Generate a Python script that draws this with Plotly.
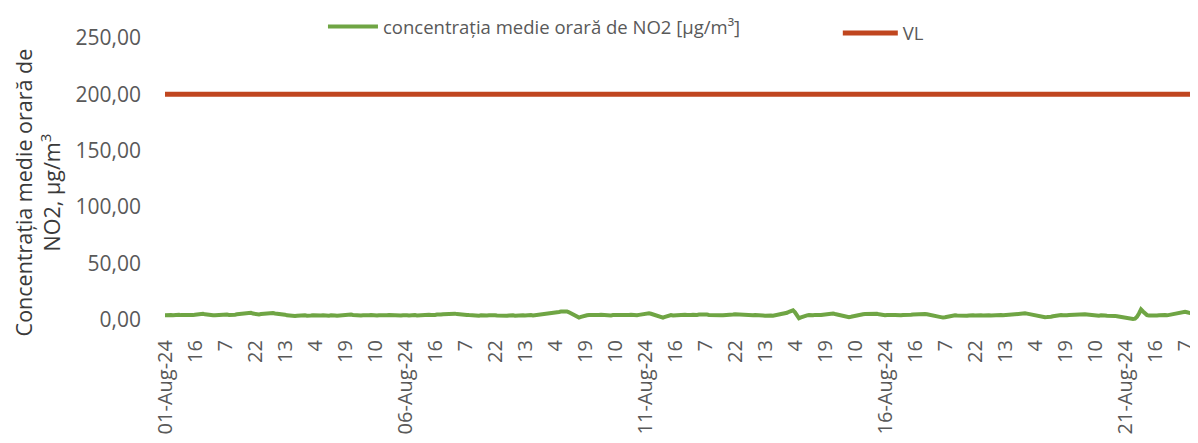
import plotly.graph_objects as go

# Hourly mean NO2 concentration (µg/m³), starting 01-Aug-24 hour 1
no2_values = [
    3.9,4.1,4.3,4.0,3.8,4.2,4.5,4.3,4.0,3.9,4.2,4.4,4.1,3.9,4.0,4.3,4.6,4.8,5.0,5.2,4.7,4.3,4.1,4.0,
    3.8,3.9,4.1,4.4,4.2,4.0,4.3,4.5,4.2,4.0,4.1,4.4,4.7,4.9,5.2,5.6,5.9,6.2,6.5,6.0,5.4,5.0,4.8,4.6,
    4.9,5.2,5.5,5.7,5.4,5.6,5.9,5.5,5.3,5.6,5.4,5.0,4.4,3.8,3.5,3.4,3.6,3.3,3.5,3.7,3.4,3.6,3.8,3.5,
    3.3,3.6,3.9,3.7,3.5,3.4,3.7,3.9,3.6,3.4,3.5,3.8,4.0,3.7,3.5,3.6,3.9,4.1,4.3,4.6,4.8,4.5,4.1,3.8,
    3.6,3.4,3.7,3.9,3.6,3.5,3.8,4.0,3.7,3.5,3.6,3.9,3.7,3.4,3.6,3.8,4.1,3.9,3.6,3.7,4.0,3.8,3.6,3.9,
    4.1,3.8,3.6,3.9,4.2,4.0,3.7,3.9,4.3,4.1,3.8,4.0,4.4,4.2,3.9,4.1,4.5,4.3,4.6,4.8,5.0,5.2,5.4,5.5,
    5.6,5.3,4.9,4.6,4.3,4.1,3.9,4.2,4.0,3.8,4.1,3.9,3.7,3.5,3.8,3.6,3.4,3.7,3.9,3.6,3.5,3.8,3.6,3.4,
    3.7,3.9,3.6,3.4,3.7,4.0,3.8,3.5,3.7,3.9,4.1,3.8,3.6,3.9,4.2,4.0,3.7,3.9,4.2,4.4,4.2,4.5,4.7,4.9,
    5.1,5.4,5.7,6.0,6.4,6.8,7.1,7.4,7.6,7.2,6.5,5.5,4.4,3.2,2.2,1.8,2.4,3.1,3.6,3.9,4.1,3.8,4.0,4.2,
    3.9,4.1,4.3,4.0,3.8,4.1,3.9,3.7,4.0,4.2,3.9,3.7,3.9,4.2,4.0,3.8,4.1,4.3,4.0,3.8,3.9,4.2,4.5,4.8,
    5.2,5.5,5.6,5.2,4.6,3.9,3.1,2.4,1.9,1.8,2.4,3.2,3.8,4.0,3.7,3.9,4.2,4.0,3.8,4.1,4.4,4.2,3.9,4.1,
    4.3,4.0,4.2,4.5,4.7,4.6,4.8,4.5,4.2,4.0,3.8,4.1,4.3,4.0,3.8,3.9,4.2,4.4,4.3,4.5,4.6,4.8,4.7,4.4,
    4.1,3.9,3.7,4.0,3.8,3.6,3.9,4.1,3.8,3.6,3.9,3.7,3.5,3.8,4.0,3.7,3.5,3.8,4.0,4.3,4.5,4.9,5.4,6.1,
    7.0,7.8,8.2,6.5,3.5,1.2,1.9,2.8,3.4,3.8,4.0,3.7,3.9,4.2,4.0,3.8,4.1,4.4,4.8,5.2,5.6,5.8,5.5,5.0,
    4.5,3.9,3.3,2.8,2.5,2.3,2.2,2.5,3.0,3.5,3.9,4.2,4.4,4.7,4.9,5.1,5.3,5.5,5.6,5.6,5.2,4.7,4.3,4.0,
    3.8,4.1,3.9,3.7,4.0,4.2,3.9,3.7,3.8,4.1,4.0,3.8,4.1,4.3,4.5,4.7,4.9,5.0,5.1,5.2,5.0,4.7,4.3,3.9,
    3.6,3.1,2.6,2.1,1.9,1.8,2.1,2.6,3.1,3.5,3.7,3.9,3.6,3.4,3.7,3.9,3.6,3.4,3.7,4.0,3.8,3.6,3.9,4.1,
    3.8,3.6,3.9,4.1,3.8,3.6,3.8,4.0,3.7,3.9,4.1,3.8,4.0,4.2,4.4,4.1,4.3,4.6,4.8,5.0,5.2,5.4,5.6,5.3,
    4.9,4.5,4.1,3.7,3.3,2.9,2.6,2.4,2.2,2.3,2.2,2.6,3.0,3.4,3.7,3.9,4.1,3.8,3.6,3.9,4.1,4.3,4.2,4.4,
    4.5,4.6,4.7,4.8,4.8,4.6,4.3,4.0,3.8,4.0,3.7,3.5,3.8,4.0,3.7,3.5,3.6,3.8,3.5,3.3,3.0,2.6,2.2,1.8,
    1.5,1.2,0.9,0.7,0.5,0.8,2.5,5.5,9.0,7.2,5.0,4.0,3.6,3.4,3.7,3.9,3.6,3.8,4.1,4.3,4.0,3.8,4.2,4.5,
    4.8,5.2,5.6,6.1,6.6,6.9,7.0,6.6,6.0,5.4,4.9,4.5,4.3,4.1,3.9,4.2,4.0,3.8,4.1,3.9,3.7,4.0,4.2,3.9,
]
vl_value = 200.0  # valoare limită

# X tick labels, one every 15 hours
tick_labels = [
    "01-Aug-24", "16", "7", "22", "13", "4", "19", "10",
    "06-Aug-24", "16", "7", "22", "13", "4", "19", "10",
    "11-Aug-24", "16", "7", "22", "13", "4", "19", "10",
    "16-Aug-24", "16", "7", "22", "13", "4", "19", "10",
    "21-Aug-24", "16", "7", "22",
]
tick_step = 15

y_ticks = [0, 50, 100, 150, 200, 250]

hours = list(range(len(no2_values)))
tick_positions = [i * tick_step for i in range(len(tick_labels))]

FONT = "Open Sans"
GREEN = "#6FA544"
RED = "#C0461F"
TICK_COL = "#595959"

fig = go.Figure()
fig.add_trace(go.Scatter(
    x=hours, y=no2_values, mode="lines",
    name="concentrația medie orară de NO2 [µg/m³]",
    line=dict(color=GREEN, width=4), legend="legend",
))
fig.add_trace(go.Scatter(
    x=hours, y=[vl_value] * len(hours), mode="lines",
    name="VL",
    line=dict(color=RED, width=5), legend="legend2",
))

fig.update_layout(
    width=1190, height=435,
    margin=dict(l=152, r=0, t=30, b=120, autoexpand=False),
    paper_bgcolor="white", plot_bgcolor="white",
    separators=", ",
    font=dict(family=FONT, color=TICK_COL),
    legend=dict(
        orientation="h", x=0.157, y=1.0, xanchor="left", yanchor="top",
        xref="paper", yref="container",
        font=dict(family=FONT, size=18.5, color=TICK_COL),
        bgcolor="rgba(0,0,0,0)", itemwidth=50,
    ),
    legend2=dict(
        orientation="h", x=0.653, y=0.985, xanchor="left", yanchor="top",
        xref="paper", yref="container",
        font=dict(family=FONT, size=18.5, color=TICK_COL),
        bgcolor="rgba(0,0,0,0)", itemwidth=55,
    ),
    showlegend=True,
)

fig.update_xaxes(
    range=[-2.5, 516.5],
    tickmode="array", tickvals=tick_positions, ticktext=tick_labels,
    tickangle=-90, tickfont=dict(family=FONT, size=20, color=TICK_COL),
    showgrid=False, zeroline=False, showline=False, ticks="",
    ticklabelstandoff=12, automargin=False,
)
fig.update_yaxes(
    range=[-3, 250],
    tickmode="array", tickvals=y_ticks, tickformat=".2f",
    tickfont=dict(family=FONT, size=21, color=TICK_COL),
    showgrid=False, zeroline=False, showline=False, ticks="",
    ticklabelstandoff=18, automargin=False,
)

fig.add_annotation(
    text="Concentrația medie orară de<br>NO2, µg/m<sup>3</sup>",
    xref="paper", yref="paper", x=0, y=0.46,
    xanchor="right", yanchor="middle", xshift=-92,
    textangle=-90, showarrow=False,
    font=dict(family=FONT, size=21.5, color="#3A3A3A"),
)

fig.write_html("out.html")
